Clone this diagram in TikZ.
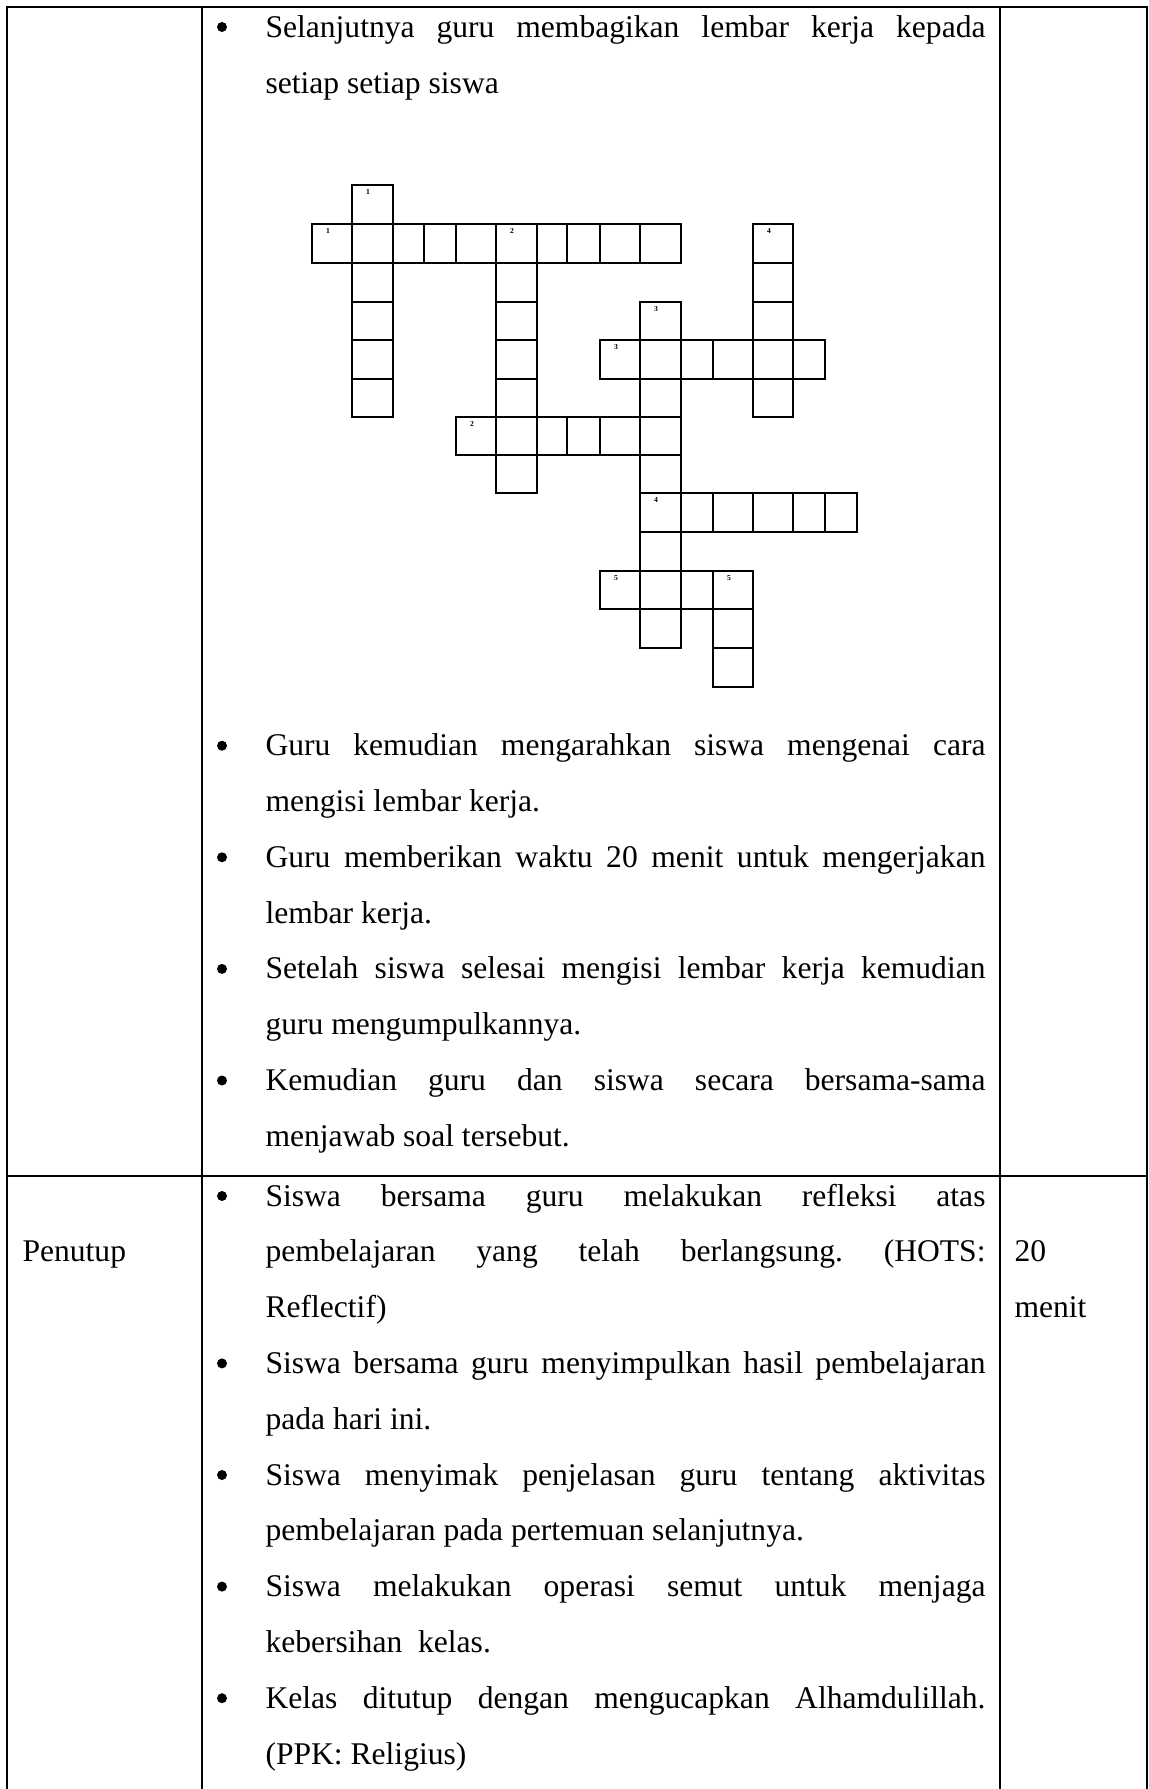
\documentclass[tikz,border=0pt]{standalone}
\usepackage{fontspec}
\setmainfont{Liberation Serif}
\newlength\tw
\setlength\tw{273.6pt}
\newcommand\jl[1]{\makebox[\tw][s]{#1}}
\begin{document}
\frenchspacing
\begin{tikzpicture}[x=0.38pt,y=-0.38pt,
  txt/.style={anchor=base west,inner sep=0pt,font=\fontsize{12}{14}\selectfont},
  bul/.style={circle,fill=black,inner sep=0pt,minimum size=3.8pt},
  tline/.style={line width=0.95pt},
  cellbox/.style={line width=0.72pt},
  cnum/.style={inner sep=0pt,font=\fontsize{2.9}{3}\selectfont\bfseries}]
\useasboundingbox (0,0) rectangle (1148,1789);
% ---------- table ----------
\draw[tline] (7,1789) -- (7,7) -- (1147,7) -- (1147,1789);
\draw[tline] (202,7) -- (202,1789);
\draw[tline] (1000,7) -- (1000,1789);
\draw[tline] (7,1176) -- (1147,1176);
% ---------- row 1 text ----------
\node[bul] (b1) at (222,27) {};
\node[txt] (t1a) at (265,37) {\jl{Selanjutnya guru membagikan lembar kerja kepada}};
\node[txt] (t1b) at (265,93) {setiap setiap siswa};
% ---------- crossword ----------
\def\colx{{312,352,393,424,456,496,537,567,600,640,681,713,753,793,825,857}}
\def\rowy{{185,224,263,302,340,379,417,455,493,532,571,609,648,687}}
\foreach \i/\j in {1/0,1/1,1/2,1/3,1/4,1/5,
  0/1,2/1,3/1,4/1,5/1,6/1,7/1,8/1,9/1,
  5/2,5/3,5/4,5/5,5/6,5/7,
  4/6,6/6,7/6,8/6,9/6,
  9/3,9/4,9/5,9/7,9/8,9/9,9/10,9/11,
  8/4,10/4,11/4,12/4,13/4,
  12/1,12/2,12/3,12/5,
  10/8,11/8,12/8,13/8,14/8,
  8/10,10/10,11/10,
  11/11,11/12}{
  \pgfmathsetmacro\xa{\colx[\i]}
  \pgfmathsetmacro\xb{\colx[\i+1]}
  \pgfmathsetmacro\ya{\rowy[\j]}
  \pgfmathsetmacro\yb{\rowy[\j+1]}
  \draw[cellbox] (\xa,\ya) rectangle (\xb,\yb);
}
\foreach \i/\j/\n/\nm in {1/0/1/nd1,0/1/1/na1,5/1/2/nd2,4/6/2/na2,9/3/3/nd3,
  8/4/3/na3,12/1/4/nd4,9/8/4/na4,8/10/5/na5,11/10/5/nd5}{
  \pgfmathsetmacro\xa{\colx[\i]+16}
  \pgfmathsetmacro\ya{\rowy[\j]+7}
  \node[cnum] (\nm) at (\xa,\ya) {\n};
}
% ---------- row 1, lower bullets ----------
\node[bul] (b2) at (222,745.7) {};
\node[txt] (t2a) at (265,755.7) {\jl{Guru kemudian mengarahkan siswa mengenai cara}};
\node[txt] (t2b) at (265,811.5) {mengisi lembar kerja.};
\node[bul] (b3) at (222,857.3) {};
\node[txt] (t3a) at (265,867.3) {\jl{Guru memberikan waktu 20 menit untuk mengerjakan}};
\node[txt] (t3b) at (265,923.1) {lembar kerja.};
\node[bul] (b4) at (222,968.9) {};
\node[txt] (t4a) at (265,978.9) {\jl{Setelah siswa selesai mengisi lembar kerja kemudian}};
\node[txt] (t4b) at (265,1034.7) {guru mengumpulkannya.};
\node[bul] (b5) at (222,1080.5) {};
\node[txt] (t5a) at (265,1090.5) {\jl{Kemudian guru dan siswa secara bersama-sama}};
\node[txt] (t5b) at (265,1146.3) {menjawab soal tersebut.};
% ---------- row 2 ----------
\node[txt] (pen) at (22,1261.8) {Penutup};
\node[txt] (dur1) at (1014,1261.8) {20};
\node[txt] (dur2) at (1014,1317.6) {menit};
\node[bul] (b6) at (222,1196) {};
\node[txt] (t6a) at (265,1206) {\jl{Siswa bersama guru melakukan refleksi atas}};
\node[txt] (t6b) at (265,1261.8) {\jl{pembelajaran yang telah berlangsung. (HOTS:}};
\node[txt] (t6c) at (265,1317.6) {Reflectif)};
\node[bul] (b7) at (222,1363.4) {};
\node[txt] (t7a) at (265,1373.4) {\jl{Siswa bersama guru menyimpulkan hasil pembelajaran}};
\node[txt] (t7b) at (265,1429.2) {pada hari ini.};
\node[bul] (b8) at (222,1475) {};
\node[txt] (t8a) at (265,1485) {\jl{Siswa menyimak penjelasan guru tentang aktivitas}};
\node[txt] (t8b) at (265,1540.8) {pembelajaran pada pertemuan selanjutnya.};
\node[bul] (b9) at (222,1586.6) {};
\node[txt] (t9a) at (265,1596.6) {\jl{Siswa melakukan operasi semut untuk menjaga}};
\node[txt] (t9b) at (265,1652.4) {kebersihan\ \ kelas.};
\node[bul] (b10) at (222,1698.2) {};
\node[txt] (t10a) at (265,1708.2) {\jl{Kelas ditutup dengan mengucapkan Alhamdulillah.}};
\node[txt] (t10b) at (265,1764) {(PPK: Religius)};
\end{tikzpicture}
\end{document}
